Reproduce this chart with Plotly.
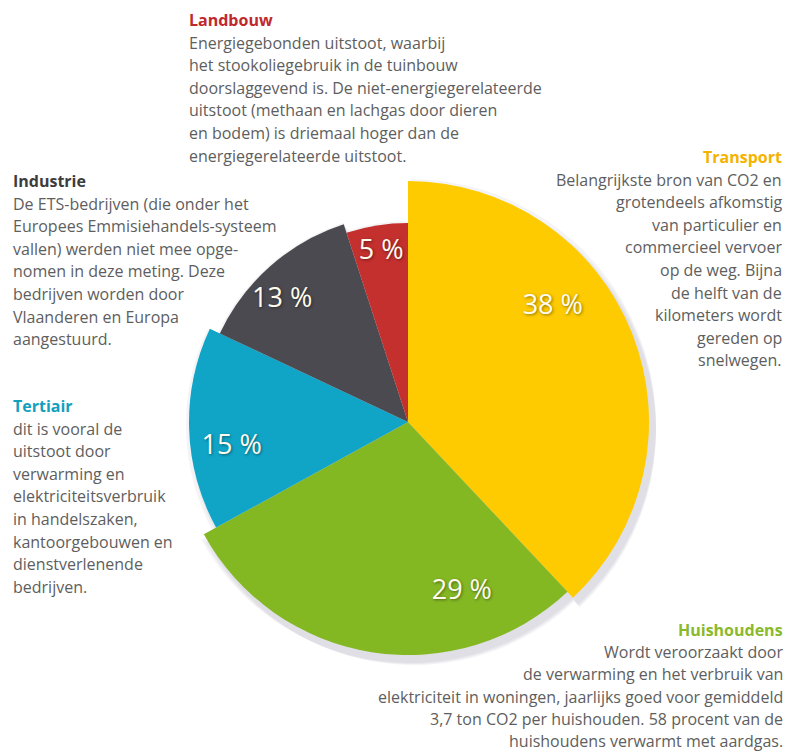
import numpy as np
import plotly.graph_objects as go

# Shares of greenhouse-gas emissions per sector (percent), clockwise from 12 o'clock
sectors = ["Transport", "Huishoudens", "Tertiair", "Industrie", "Landbouw"]
shares = [38, 29, 15, 13, 5]
share_labels = ["38 %", "29 %", "15 %", "13 %", "5 %"]

# Explanatory text per sector
landbouw_lines = [
    "Energiegebonden uitstoot, waarbij",
    "het stookoliegebruik in de tuinbouw",
    "doorslaggevend is. De niet-energiegerelateerde",
    "uitstoot (methaan en lachgas door dieren",
    "en bodem) is driemaal hoger dan de",
    "energiegerelateerde uitstoot.",
]
industrie_lines = [
    "De ETS-bedrijven (die onder het",
    "Europees Emmisiehandels-systeem",
    "vallen) werden niet mee opge-",
    "nomen in deze meting. Deze",
    "bedrijven worden door",
    "Vlaanderen en Europa",
    "aangestuurd.",
]
transport_lines = [
    "Belangrijkste bron van CO2 en",
    "grotendeels afkomstig",
    "van particulier en",
    "commercieel vervoer",
    "op de weg. Bijna",
    "de helft van de",
    "kilometers wordt",
    "gereden op",
    "snelwegen.",
]
tertiair_lines = [
    "dit is vooral de",
    "uitstoot door",
    "verwarming en",
    "elektriciteitsverbruik",
    "in handelszaken,",
    "kantoorgebouwen en",
    "dienstverlenende",
    "bedrijven.",
]
huishoudens_lines = [
    "Wordt veroorzaakt door",
    "de verwarming en het verbruik van",
    "elektriciteit in woningen, jaarlijks goed voor gemiddeld",
    "3,7 ton CO2 per huishouden. 58 procent van de",
    "huishoudens verwarmt met aardgas.",
]

# ---- styling ----
W, H = 788, 754
slice_colors = ["#fecb00", "#84b823", "#10a5c7", "#4a4a50", "#c3302e"]
title_colors = {"Transport": "#f3b300", "Huishoudens": "#8ab92a", "Tertiair": "#149fbe",
                "Industrie": "#3d3d3d", "Landbouw": "#c0282c"}
slice_radius = [241, 233, 219, 208, 199]          # each wedge sticks out differently
label_pos = [(185, 51.5), (179, 162.5), (178, 262), (175, 314), (172, 351)]  # (r, theta)
R_MAX = 250
CX, CY = 408, 422                                # pie centre in pixels
FONT = "Open Sans"
BODY_COLOR = "#5e5e5e"
BODY_SIZE = 16
LINE_H = 22.6

widths = np.array(shares) * 3.6
thetas = np.cumsum(widths) - widths / 2


def polar_domain(dx=0, dy=0):
    cx, cy = CX + dx, CY + dy
    return dict(x=[(cx - R_MAX) / W, (cx + R_MAX) / W],
                y=[1 - (cy + R_MAX) / H, 1 - (cy - R_MAX) / H])


def polar_layout(dx=0, dy=0):
    return dict(
        domain=polar_domain(dx, dy),
        bgcolor="rgba(0,0,0,0)",
        hole=0,
        radialaxis=dict(visible=False, range=[0, R_MAX]),
        angularaxis=dict(visible=False, direction="clockwise", rotation=90),
    )


fig = go.Figure()

# soft drop shadow: a few faint offset copies underneath the pie
shadow_offsets = [(2, 3, 5), (4, 6, 3), (6, 9, 1)]
layout_polars = {}
for i, (dx, dy, grow) in enumerate(shadow_offsets):
    name = "polar" if i == 0 else f"polar{i + 1}"
    layout_polars[name] = polar_layout(dx, dy)
    fig.add_trace(go.Barpolar(
        r=[r + grow for r in slice_radius], theta=thetas, width=widths,
        marker=dict(color="rgba(70,70,110,0.06)", line=dict(width=0)),
        subplot=name, showlegend=False, hoverinfo="skip",
    ))

main = f"polar{len(shadow_offsets) + 1}"
layout_polars[main] = polar_layout()

fig.add_trace(go.Barpolar(
    r=slice_radius, theta=thetas, width=widths,
    marker=dict(color=slice_colors, line=dict(width=0)),
    text=sectors, subplot=main, showlegend=False,
))

fig.add_trace(go.Scatterpolar(
    r=[p[0] for p in label_pos], theta=[p[1] for p in label_pos],
    mode="text", text=share_labels,
    textfont=dict(family=FONT, size=27, color="#fffcef",
                  shadow="1px 1px 3px rgba(0,0,0,0.45)"),
    subplot=main, showlegend=False, hoverinfo="skip",
))

annotations = []


def text_block(title, lines, x, y, align, line_h=LINE_H):
    anchor = "left" if align == "left" else "right"
    annotations.append(dict(
        text=f"<b>{title}</b>", x=x / W, y=1 - y / H, xref="paper", yref="paper",
        xanchor=anchor, yanchor="middle", showarrow=False,
        font=dict(family=FONT, size=BODY_SIZE, color=title_colors[title]),
    ))
    for k, line in enumerate(lines):
        annotations.append(dict(
            text=line, x=x / W, y=1 - (y + (k + 1) * line_h) / H,
            xref="paper", yref="paper", xanchor=anchor, yanchor="middle",
            showarrow=False, font=dict(family=FONT, size=BODY_SIZE, color=BODY_COLOR),
        ))


text_block("Landbouw", landbouw_lines, 187, 20, "left")
text_block("Industrie", industrie_lines, 11, 181, "left")
text_block("Tertiair", tertiair_lines, 11, 406, "left")
text_block("Transport", transport_lines, 784, 157, "right")
text_block("Huishoudens", huishoudens_lines, 785, 630, "right", line_h=22.2)

fig.update_layout(
    width=W, height=H,
    margin=dict(l=0, r=0, t=0, b=0),
    paper_bgcolor="white", plot_bgcolor="white",
    annotations=annotations,
    **layout_polars,
)

fig.write_html("out.html")
